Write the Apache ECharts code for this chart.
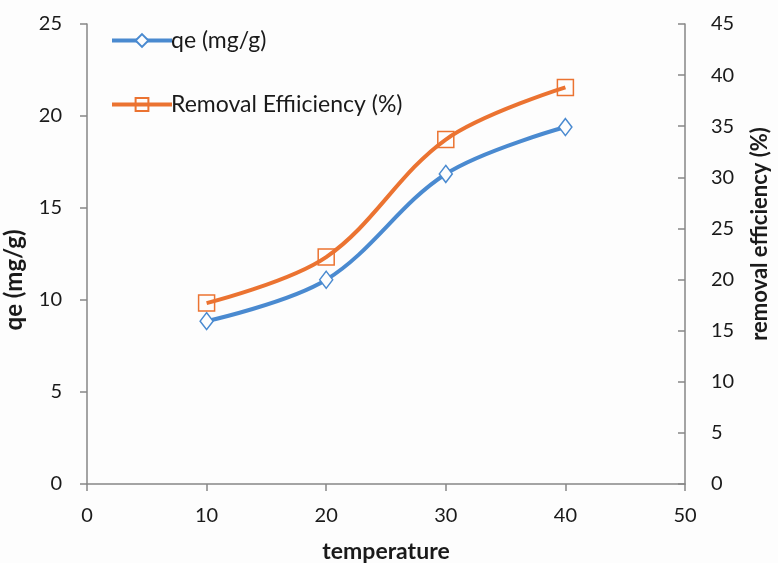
<!DOCTYPE html>
<html>
<head>
<meta charset="utf-8">
<script src="https://cdn.jsdelivr.net/npm/echarts@6/dist/echarts.min.js"></script>
<style>
  html, body { margin: 0; padding: 0; background: #fdfdfd; }
  #chart { width: 778px; height: 563px; }
</style>
</head>
<body>
<div id="chart"></div>
<script>
// Temperature (°C) against adsorption capacity and removal efficiency
const temperature = [10, 20, 30, 40];
const qe = [8.85, 11.1, 16.85, 19.4];
const removalEfficiency = [17.7, 22.2, 33.7, 38.8];

const qeName = 'qe (mg/g)';
const reName = 'Removal Effiiciency (%)';

const FONT = 'Lato, "Open Sans", sans-serif';
const AXIS_GREY = '#868686';
const TEXT = '#1a1a1a';

const pairs = (xs, ys) => xs.map((x, i) => [x, ys[i]]);

const chart = echarts.init(document.getElementById('chart'));
chart.setOption({
  backgroundColor: '#fdfdfd',
  animation: false,
  grid: { left: 87, right: 93, top: 24, bottom: 79, containLabel: false, outerBoundsMode: 'none' },
  legend: {
    orient: 'vertical',
    left: 105,
    top: 24,
    itemGap: 41,
    itemWidth: 60,
    itemHeight: 16,
    lineStyle: { width: 4 },
    textStyle: { fontFamily: FONT, fontSize: 23, color: TEXT, padding: [0, 0, 0, -6] },
    data: [qeName, reName]
  },
  xAxis: {
    type: 'value',
    min: 0, max: 50, interval: 10,
    name: 'temperature',
    nameLocation: 'middle',
    nameGap: 56,
    nameTextStyle: { fontFamily: FONT, fontSize: 23, fontWeight: 'bold', color: TEXT },
    axisLine: { lineStyle: { color: AXIS_GREY, width: 1.5 } },
    axisTick: { show: true, length: 7, lineStyle: { color: AXIS_GREY, width: 1.5 } },
    axisLabel: { fontFamily: FONT, fontSize: 20, color: TEXT, margin: 22 },
    splitLine: { show: false }
  },
  yAxis: [
    {
      type: 'value',
      min: 0, max: 25, interval: 5,
      name: 'qe (mg/g)',
      nameLocation: 'middle',
      nameGap: 61,
      nameRotate: 90,
      nameTextStyle: {
        fontFamily: FONT, fontSize: 24, fontWeight: 'bold', color: TEXT,
        padding: [0, 52, 0, 0]
      },
      axisLine: { show: true, lineStyle: { color: AXIS_GREY, width: 1.5 } },
      axisTick: { show: true, length: 7, lineStyle: { color: AXIS_GREY, width: 1.5 } },
      axisLabel: { fontFamily: FONT, fontSize: 20, color: TEXT, margin: 25 },
      splitLine: { show: false }
    },
    {
      type: 'value',
      position: 'right',
      min: 0, max: 45, interval: 5,
      name: 'removal efficiency (%)',
      nameLocation: 'middle',
      nameGap: 64,
      nameRotate: 90,
      nameTextStyle: {
        fontFamily: FONT, fontSize: 22, fontWeight: 'bold', color: TEXT,
        padding: [0, 0, 0, 40]
      },
      axisLine: { show: true, lineStyle: { color: AXIS_GREY, width: 1.5 } },
      axisTick: { show: true, inside: true, length: 7, lineStyle: { color: AXIS_GREY, width: 1.5 } },
      axisLabel: { fontFamily: FONT, fontSize: 20, color: TEXT, margin: 26 },
      splitLine: { show: false }
    }
  ],
  series: [
    {
      name: qeName,
      type: 'line',
      yAxisIndex: 0,
      data: pairs(temperature, qe),
      smooth: 0.35,
      symbol: 'diamond',
      symbolSize: [13, 17],
      itemStyle: { color: '#fdfdfd', borderColor: '#4a8ad0', borderWidth: 1.5 },
      lineStyle: { color: '#4a8ad0', width: 4 },
      color: '#4a8ad0'
    },
    {
      name: reName,
      type: 'line',
      yAxisIndex: 1,
      data: pairs(temperature, removalEfficiency),
      smooth: 0.35,
      symbol: 'rect',
      symbolSize: 16,
      itemStyle: { color: 'rgba(0,0,0,0)', borderColor: '#eb7331', borderWidth: 1.5 },
      lineStyle: { color: '#eb7331', width: 4 },
      color: '#eb7331'
    }
  ]
});
</script>
</body>
</html>
